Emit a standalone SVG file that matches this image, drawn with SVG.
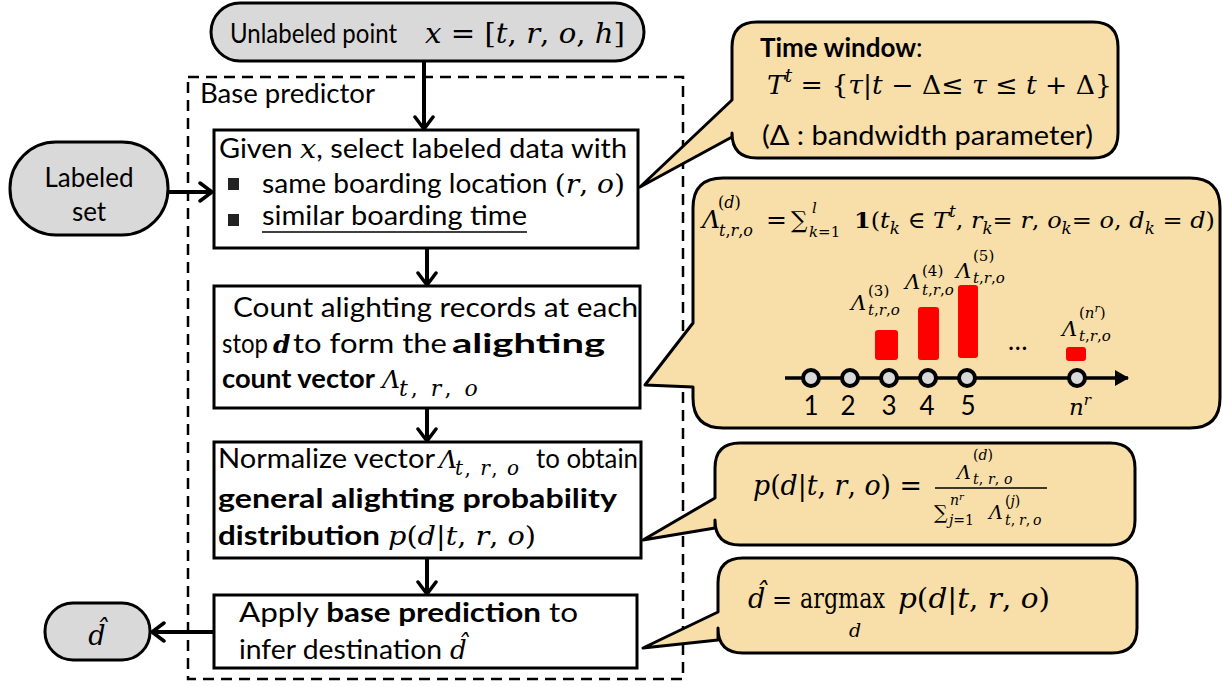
<svg xmlns="http://www.w3.org/2000/svg" width="1223" height="687" viewBox="0 0 1223 687">
<defs>
<style>
.t{font-family:Lato,"Open Sans","Liberation Sans",sans-serif;font-size:26px;fill:#000}
.b{font-weight:bold}
.m{font-family:"DejaVu Serif","Liberation Serif",serif;font-style:italic;fill:#000}
.r{font-style:normal}
.pill{fill:#D9D9D9;stroke:#000;stroke-width:3}
.box{fill:#fff;stroke:#000;stroke-width:3}
.call{fill:#F8DEA9;stroke:#000;stroke-width:3;stroke-linejoin:round}
.conn{stroke:#000;stroke-width:4;fill:none}
.bar{fill:#FF0000}
.stop{fill:#D9D9D9;stroke:#000;stroke-width:4}
</style>
<marker id="ah" viewBox="0 0 16 22" refX="14" refY="11" markerWidth="16" markerHeight="22" markerUnits="userSpaceOnUse" orient="auto">
<path d="M2,2 L14,11 L2,20" fill="none" stroke="#000" stroke-width="3.5" stroke-linecap="round"/>
</marker>
<marker id="ah2" viewBox="0 0 14 16" refX="13" refY="8" markerWidth="14" markerHeight="16" markerUnits="userSpaceOnUse" orient="auto">
<path d="M0,0 L14,8 L0,16 Z" fill="#000"/>
</marker>
</defs>
<rect width="1223" height="687" fill="#fff"/>

<g id="base-predictor">
<rect x="188" y="77" width="495" height="602" fill="none" stroke="#000" stroke-width="2.5" stroke-dasharray="11 7"/>
<text x="200" y="103" class="t" font-size="24" textLength="175" lengthAdjust="spacingAndGlyphs">Base predictor</text>
</g>

<g id="connectors">
<line x1="424" y1="61" x2="424" y2="129" class="conn" marker-end="url(#ah)"/>
<line x1="168" y1="192" x2="212" y2="192" class="conn" marker-end="url(#ah)"/>
<line x1="427" y1="248" x2="427" y2="285" class="conn" marker-end="url(#ah)"/>
<line x1="427" y1="408" x2="427" y2="441" class="conn" marker-end="url(#ah)"/>
<line x1="427" y1="558" x2="427" y2="594" class="conn" marker-end="url(#ah)"/>
<line x1="213" y1="632" x2="152" y2="632" class="conn" marker-end="url(#ah)"/>
</g>

<g id="unlabeled">
<rect x="211" y="3" width="433" height="58" rx="29" class="pill"/>
<text x="230" y="43" class="t" font-size="29" textLength="167" lengthAdjust="spacingAndGlyphs">Unlabeled point</text>
<text x="425" y="43" class="m" font-size="28" textLength="200" lengthAdjust="spacingAndGlyphs">x<tspan class="r"> = [</tspan>t<tspan class="r">, </tspan>r<tspan class="r">, </tspan>o<tspan class="r">, </tspan>h<tspan class="r">]</tspan></text>
</g>

<g id="labeled-set">
<rect x="10" y="142" width="158" height="93" rx="46" class="pill"/>
<text x="89" y="187" class="t" font-size="29" text-anchor="middle">Labeled</text>
<text x="89" y="221" class="t" font-size="29" text-anchor="middle">set</text>
</g>

<g id="select">
<rect x="214" y="130" width="424" height="118" class="box"/>
<text x="219" y="158" class="t" font-size="27" textLength="408" lengthAdjust="spacingAndGlyphs">Given <tspan class="m" font-size="26">x</tspan>, select labeled data with</text>
<rect x="228" y="178" width="11" height="12" fill="#222"/>
<text x="262" y="193" class="t" font-size="27" textLength="363" lengthAdjust="spacingAndGlyphs">same boarding location <tspan class="m r" font-size="26">(</tspan><tspan class="m" font-size="26">r</tspan><tspan class="m r" font-size="26">, </tspan><tspan class="m" font-size="26">o</tspan><tspan class="m r" font-size="26">)</tspan></text>
<rect x="228" y="214" width="11" height="12" fill="#222"/>
<text x="262" y="225" class="t" font-size="27" textLength="265" lengthAdjust="spacingAndGlyphs">similar boarding time</text>
<line x1="262" y1="232" x2="527" y2="232" stroke="#000" stroke-width="1.6"/>
</g>

<g id="count">
<rect x="214" y="286" width="426" height="122" class="box"/>
<text x="233" y="317" class="t" font-size="27" textLength="405" lengthAdjust="spacingAndGlyphs">Count alighting records at each</text>
<text x="222" y="353" class="t" font-size="27" textLength="46" lengthAdjust="spacingAndGlyphs">stop</text>
<text x="273" y="353" class="m b" font-size="25">d</text>
<text x="293" y="353" class="t" font-size="27" textLength="154" lengthAdjust="spacingAndGlyphs">to form the</text>
<text x="452" y="353" class="t b" font-size="27" textLength="153" lengthAdjust="spacingAndGlyphs">alighting</text>
<text x="222" y="388" class="t b" font-size="27" textLength="153" lengthAdjust="spacingAndGlyphs">count vector</text>
<text x="382" y="388" class="m" font-size="25">Λ</text>
<text x="399" y="396" class="m" font-size="22" letter-spacing="3">t<tspan class="r">, </tspan>r<tspan class="r">, </tspan>o</text>
</g>

<g id="normalize">
<rect x="214" y="442" width="427" height="116" class="box"/>
<text x="218" y="468" class="t" font-size="27" textLength="217" lengthAdjust="spacingAndGlyphs">Normalize vector</text>
<text x="439" y="468" class="m" font-size="25">Λ</text>
<text x="455" y="475" class="m" font-size="20" letter-spacing="1.5">t<tspan class="r">, </tspan>r<tspan class="r">, </tspan>o</text>
<text x="536" y="468" class="t" font-size="27" textLength="102" lengthAdjust="spacingAndGlyphs">to obtain</text>
<text x="218" y="508" class="t b" font-size="27" textLength="399" lengthAdjust="spacingAndGlyphs">general alighting probability</text>
<text x="218" y="545" class="t b" font-size="27" textLength="162" lengthAdjust="spacingAndGlyphs">distribution</text>
<text x="388" y="545" class="m" font-size="26" textLength="148" lengthAdjust="spacingAndGlyphs">p<tspan class="r">(</tspan>d<tspan class="r">|</tspan>t<tspan class="r">, </tspan>r<tspan class="r">, </tspan>o<tspan class="r">)</tspan></text>
</g>

<g id="apply">
<rect x="214" y="595" width="423" height="73" class="box"/>
<text x="239" y="622" class="t" font-size="27" textLength="339" lengthAdjust="spacingAndGlyphs">Apply <tspan class="b">base prediction</tspan> to</text>
<text x="239" y="659" class="t" font-size="27" textLength="203" lengthAdjust="spacingAndGlyphs">infer destination</text>
<text x="450" y="659" class="m" font-size="26">d̂</text>
</g>

<g id="dhat">
<rect x="45" y="603" width="105" height="57" rx="28" class="pill"/>
<text x="97" y="645" class="m" font-size="27" text-anchor="middle">d̂</text>
</g>

<g id="callout-time">
<path d="M757,22 H1093 Q1118,22 1118,47 V133 Q1118,158 1093,158 H757 Q732,158 732,133 V137 L640,187 L732,100 V47 Q732,22 757,22 Z" class="call"/>
<text x="760" y="57" class="t" font-size="27"><tspan class="b">Time window</tspan>:</text>
<text x="767" y="94" class="m" font-size="26" textLength="345" lengthAdjust="spacingAndGlyphs">T<tspan dy="-12" font-size="18">t</tspan><tspan dy="12" class="r"> = {</tspan>τ<tspan class="r">|</tspan>t<tspan class="r"> − Δ≤ </tspan>τ<tspan class="r"> ≤ </tspan>t<tspan class="r"> + Δ}</tspan></text>
<text x="762" y="145" class="t" font-size="27" textLength="331" lengthAdjust="spacingAndGlyphs">(Δ : bandwidth parameter)</text>
</g>

<g id="callout-count">
<path d="M723,178 H1190 Q1220,178 1220,208 V398 Q1220,428 1190,428 H723 Q693,428 693,398 V387 L645,385 L693,323 V208 Q693,178 723,178 Z" class="call"/>
<text x="702" y="228" class="m" font-size="25">Λ</text>
<text class="m" font-size="16"><tspan x="718" y="208" class="r">(</tspan><tspan>d</tspan><tspan class="r">)</tspan><tspan x="719" y="236">t</tspan><tspan class="r">,</tspan><tspan>r</tspan><tspan class="r">,</tspan><tspan>o</tspan></text>
<text x="766" y="228" class="m r" font-size="25">=</text>
<text x="791" y="228" class="m r" font-size="23">∑</text>
<text class="m" font-size="15"><tspan x="812" y="213">l</tspan><tspan x="809" y="237">k</tspan><tspan class="r">=1</tspan></text>
<text x="854" y="228" class="m" font-size="23" textLength="361" lengthAdjust="spacingAndGlyphs"><tspan class="r" font-weight="bold">1</tspan><tspan class="r">(</tspan>t<tspan dy="6" font-size="16">k</tspan><tspan dy="-6" class="r"> ∈ </tspan>T<tspan dy="-11" font-size="16">t</tspan><tspan dy="11" class="r">, </tspan>r<tspan dy="6" font-size="16">k</tspan><tspan dy="-6" class="r">= </tspan>r<tspan class="r">, </tspan>o<tspan dy="6" font-size="16">k</tspan><tspan dy="-6" class="r">= </tspan>o<tspan class="r">, </tspan>d<tspan dy="6" font-size="16">k</tspan><tspan dy="-6" class="r"> = </tspan>d<tspan class="r">)</tspan></text>

<rect x="875" y="330" width="23" height="30" rx="3" class="bar"/>
<rect x="918" y="307" width="21" height="53" rx="3" class="bar"/>
<rect x="958" y="285" width="20" height="73" rx="3" class="bar"/>
<rect x="1066" y="347" width="20" height="14" rx="3" class="bar"/>

<text class="m" font-size="21">
<tspan x="851" y="310">Λ</tspan>
<tspan x="905" y="289">Λ</tspan>
<tspan x="956" y="278">Λ</tspan>
<tspan x="1062" y="336">Λ</tspan>
</text>
<text class="m r" font-size="15">
<tspan x="868" y="296">(3)</tspan>
<tspan x="922" y="276">(4)</tspan>
<tspan x="973" y="261">(5)</tspan>
<tspan x="1079" y="318">(</tspan><tspan font-style="italic">n</tspan><tspan dy="-6" font-size="11" font-style="italic">r</tspan><tspan dy="6">)</tspan>
</text>
<text class="m" font-size="15">
<tspan x="868" y="315">t</tspan><tspan class="r">,</tspan><tspan>r</tspan><tspan class="r">,</tspan><tspan>o</tspan>
<tspan x="922" y="295">t</tspan><tspan class="r">,</tspan><tspan>r</tspan><tspan class="r">,</tspan><tspan>o</tspan>
<tspan x="973" y="283">t</tspan><tspan class="r">,</tspan><tspan>r</tspan><tspan class="r">,</tspan><tspan>o</tspan>
<tspan x="1079" y="341">t</tspan><tspan class="r">,</tspan><tspan>r</tspan><tspan class="r">,</tspan><tspan>o</tspan>
</text>
<text x="1008" y="350" class="t" font-size="24">…</text>

<line x1="785" y1="378" x2="1128" y2="378" stroke="#000" stroke-width="3.5" marker-end="url(#ah2)"/>
<circle cx="811" cy="378" r="8" class="stop"/>
<circle cx="850" cy="378" r="8" class="stop"/>
<circle cx="889" cy="378" r="8" class="stop"/>
<circle cx="928" cy="378" r="8" class="stop"/>
<circle cx="967" cy="378" r="8" class="stop"/>
<circle cx="1077" cy="378" r="8" class="stop"/>
<text x="811" y="415" class="t" font-size="23" text-anchor="middle">1</text>
<text x="848" y="415" class="t" font-size="23" text-anchor="middle">2</text>
<text x="889" y="415" class="t" font-size="23" text-anchor="middle">3</text>
<text x="927" y="415" class="t" font-size="23" text-anchor="middle">4</text>
<text x="968" y="415" class="t" font-size="23" text-anchor="middle">5</text>
<text x="1069" y="415" class="m" font-size="23">n<tspan dy="-10" font-size="15">r</tspan></text>
</g>

<g id="callout-prob">
<path d="M740,443 H1110 Q1135,443 1135,468 V520 Q1135,545 1110,545 H740 Q715,545 715,520 V528 L643,540 L715,498 V468 Q715,443 740,443 Z" class="call"/>
<text x="753" y="495" class="m" font-size="27" textLength="169" lengthAdjust="spacingAndGlyphs">p<tspan class="r">(</tspan>d<tspan class="r">|</tspan>t<tspan class="r">, </tspan>r<tspan class="r">, </tspan>o<tspan class="r">) =</tspan></text>
<line x1="935" y1="488" x2="1047" y2="488" stroke="#000" stroke-width="1.5"/>
<text class="m" font-size="19">
<tspan x="957" y="479">Λ</tspan>
<tspan x="989" y="519">Λ</tspan>
<tspan x="934" y="519" class="r">∑</tspan>
</text>
<text class="m" font-size="14">
<tspan x="973" y="460" class="r">(</tspan><tspan>d</tspan><tspan class="r">)</tspan>
<tspan x="973" y="484">t</tspan><tspan class="r">,</tspan><tspan x="988" y="484">r</tspan><tspan class="r">,</tspan><tspan x="1004" y="484">o</tspan>
<tspan x="950" y="505">n</tspan><tspan dy="-5" font-size="10">r</tspan>
<tspan x="949" y="525">j</tspan><tspan class="r">=1</tspan>
<tspan x="1005" y="506" class="r">(</tspan><tspan>j</tspan><tspan class="r">)</tspan>
<tspan x="1005" y="525">t</tspan><tspan class="r">,</tspan><tspan x="1019" y="525">r</tspan><tspan class="r">,</tspan><tspan x="1033" y="525">o</tspan>
</text>
</g>

<g id="callout-argmax">
<path d="M743,558 H1112 Q1137,558 1137,583 V628 Q1137,653 1112,653 H743 Q718,653 718,628 V640 L643,648 L718,612 V583 Q718,558 743,558 Z" class="call"/>
<text x="748" y="608" class="m" font-size="27">d̂</text>
<text x="772" y="608" class="m r" font-size="24">=</text>
<text x="800" y="608" class="m r" font-size="27" textLength="85" lengthAdjust="spacingAndGlyphs">argmax</text>
<text x="898" y="608" class="m" font-size="27" textLength="152" lengthAdjust="spacingAndGlyphs">p<tspan class="r">(</tspan>d<tspan class="r">|</tspan>t<tspan class="r">, </tspan>r<tspan class="r">, </tspan>o<tspan class="r">)</tspan></text>
<text x="849" y="637" class="m" font-size="19">d</text>
</g>
</svg>
